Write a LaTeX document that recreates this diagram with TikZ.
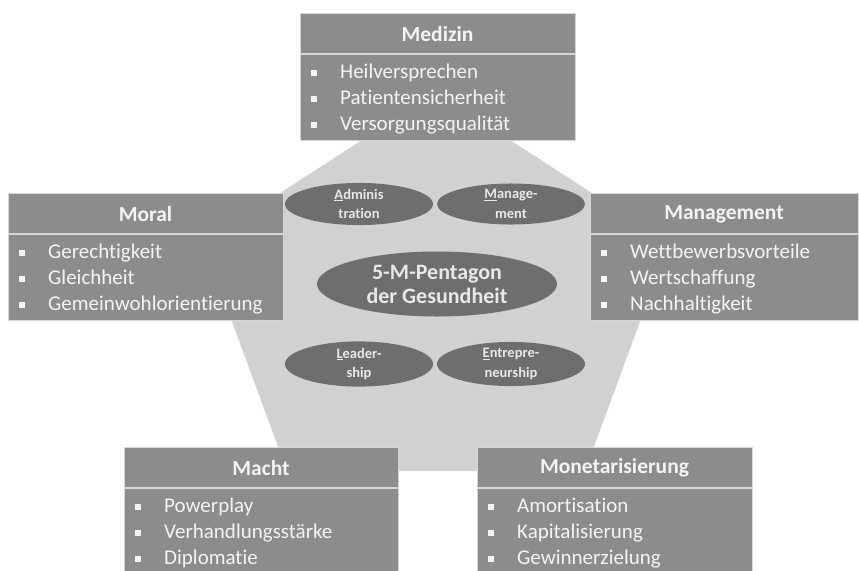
\documentclass[tikz,border=0pt]{standalone}
\usepackage{fontspec}
\setmainfont{Carlito}[Ligatures={NoCommon}]
\usetikzlibrary{shapes.geometric}

\definecolor{penta}{HTML}{D1D1D1}
\definecolor{boxgray}{HTML}{8A8C8E}
\definecolor{boxedge}{HTML}{D6D6D6}
\definecolor{ovalgray}{HTML}{6E6E6E}
\definecolor{lighttext}{HTML}{F4F4F4}
\definecolor{ovaltext}{HTML}{E8E8E8}

\tikzset{
  boxframe/.style={fill=boxgray, draw=boxedge, line width=0.8pt},
  divider/.style={draw=boxedge, line width=1.4pt},
  headtext/.style={font=\fontsize{21.5}{24}\selectfont\bfseries, text=lighttext, inner sep=0pt},
  itemtext/.style={font=\fontsize{21}{24}\selectfont, text=lighttext, inner sep=0pt,
    anchor=west, text height=14pt, text depth=4pt},
  bulletsq/.style={fill=lighttext, draw=none, minimum size=5.5pt, inner sep=0pt, rectangle},
  oval/.style={ellipse, fill=ovalgray, draw=none, inner sep=0pt, text=ovaltext,
    align=center},
  smalloval/.style={oval, minimum width=148pt, minimum height=41pt,
    font=\fontsize{14.5}{19.5}\selectfont\bfseries},
  bigoval/.style={oval, minimum width=240pt, minimum height=65pt,
    font=\fontsize{22}{24}\selectfont\bfseries},
}

% topic box: name, left, top, right, bottom, title, three items
\newcommand{\topicbox}[9]{%
  \draw[boxframe] (#2,#3) rectangle (#4,#5);
  \draw[divider] (#2,#3+41) -- (#4,#3+41);
  \node[headtext] (#1) at ({(#2+#4)/2},#3+21) {#6};
  \node[bulletsq] (#1-b1) at (#2+14,#3+60) {};
  \node[bulletsq] (#1-b2) at (#2+14,#3+86) {};
  \node[bulletsq] (#1-b3) at (#2+14,#3+112) {};
  \node[itemtext] (#1-i1) at (#2+40,#3+60) {#7};
  \node[itemtext] (#1-i2) at (#2+40,#3+86) {#8};
  \node[itemtext] (#1-i3) at (#2+40,#3+112) {#9};
}

\begin{document}
\begin{tikzpicture}[x=1pt,y=-1pt]
  \useasboundingbox[fill=white] (0,0) rectangle (859,570);
  \begin{scope}
  \clip (0,0) rectangle (859,570);

  % background pentagon
  \fill[penta] (436,92) -- (669,243) -- (585,471) -- (287,471) -- (203,243) -- cycle;

  % the five fields
  \topicbox{medizin}{300}{13}{575}{140}{Medizin}{Heilversprechen}{Patientensicherheit}{Versorgungsqualität}
  \topicbox{moral}{8}{193}{283}{320}{Moral}{Gerechtigkeit}{Gleichheit}{Gemeinwohlorientierung}
  \topicbox{mgmt}{590}{193}{858}{320}{Management}{Wettbewerbsvorteile}{Wertschaffung}{Nachhaltigkeit}
  \topicbox{macht}{124}{447}{398}{576}{Macht}{Powerplay}{Verhandlungsstärke}{Diplomatie}
  \topicbox{money}{477}{447}{752}{576}{Monetarisierung}{Amortisation}{Kapitalisierung}{Gewinnerzielung}

  % the AMLE ovals and the centre
  \node[smalloval] (admin) at (359,204) {\underline{A}dminis\\tration};
  \node[smalloval] (manage) at (511,204) {\underline{M}anage-\\ment};
  \node[bigoval] (centre) at (437,284) {5-M-Pentagon\\der Gesundheit};
  \node[smalloval] (leader) at (359,364) {\underline{L}eader-\\ship};
  \node[smalloval] (entre) at (511,364) {\underline{E}ntrepre-\\neurship};
  \end{scope}
\end{tikzpicture}
\end{document}
